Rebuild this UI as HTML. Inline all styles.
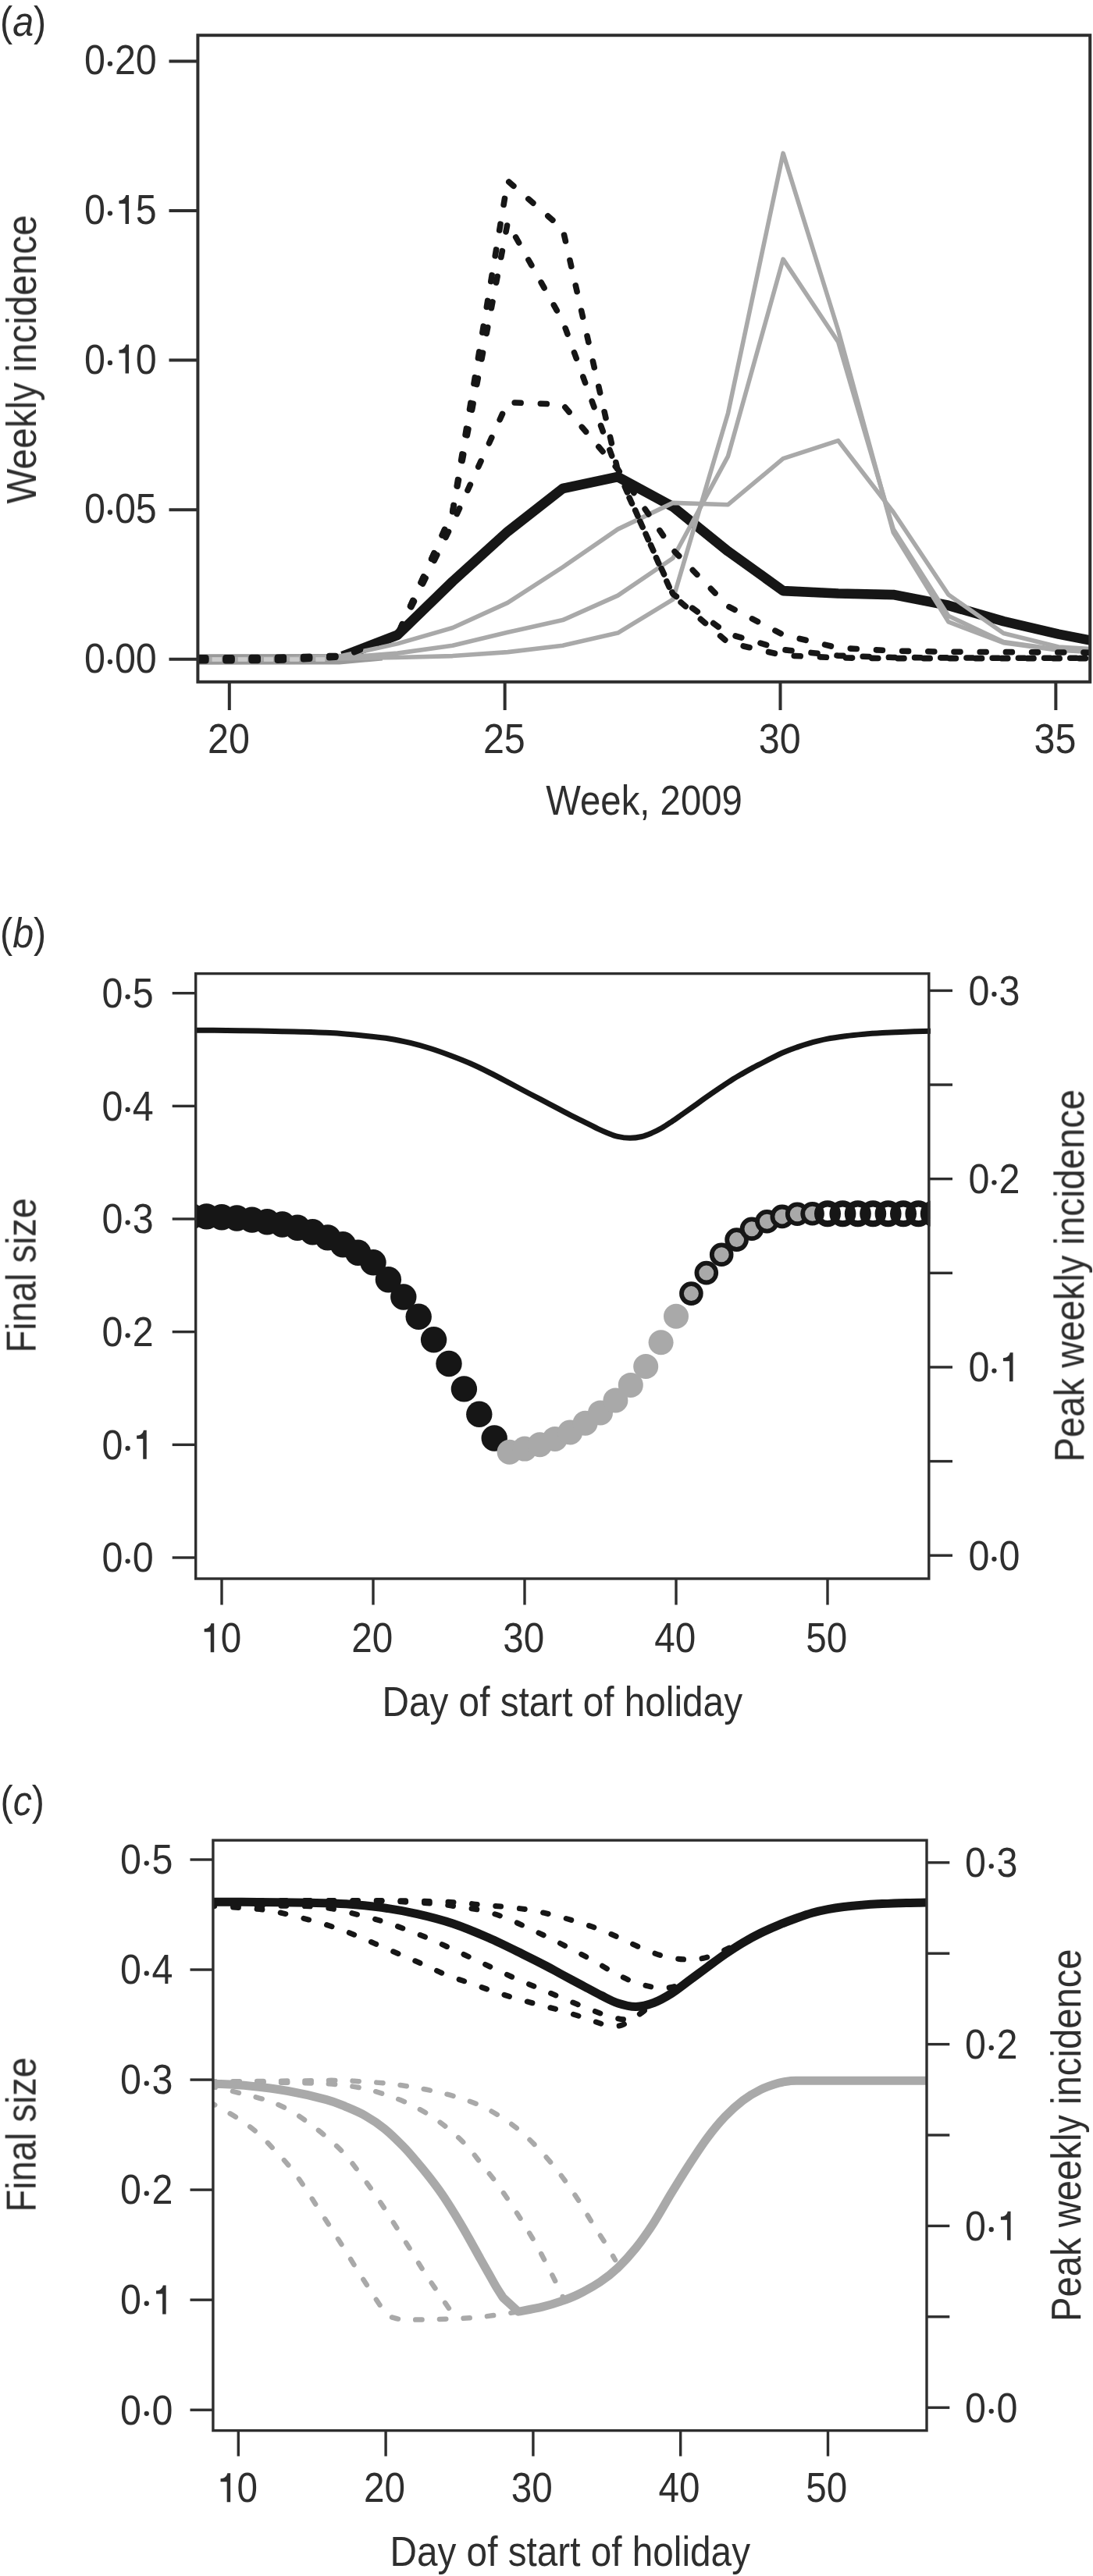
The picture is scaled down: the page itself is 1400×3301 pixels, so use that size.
<!DOCTYPE html>
<html lang="en"><head><meta charset="utf-8"><title>Figure</title>
<style>html,body{margin:0;padding:0;background:#fff}svg{display:block}text{font-family:"Liberation Sans",sans-serif;fill:#2e2e2e}</style></head><body>
<svg width="1400" height="3301" viewBox="0 0 1400 3301">
<rect width="1400" height="3301" fill="#fff"/>
<defs>
<clipPath id="ca"><rect x="253.4" y="45.2" width="1142.8" height="828.6"/></clipPath>
<clipPath id="cb"><rect x="249" y="1247.6" width="942.6" height="775.4"/></clipPath>
<clipPath id="cc"><rect x="272.9" y="2358.2" width="914.1" height="756.4"/></clipPath>
<filter id="soft" x="0" y="0" width="1400" height="3301" filterUnits="userSpaceOnUse"><feGaussianBlur stdDeviation="0.55"/></filter>
</defs>
<g filter="url(#soft)">
<!-- panel a -->
<text transform="translate(0,45.8) scale(0.905,1)" font-size="53.5" text-anchor="start">(<tspan font-style="italic">a</tspan>)</text>
<g clip-path="url(#ca)" stroke-linejoin="round">
<path d="M438.54,840.97 L509.11,813.76 L579.68,745.17 L650.25,681.17 L720.82,625.99 L791.39,611.05 L861.96,649.37 L932.53,706.46 L1003.1,757.05 L1073.67,760.5 L1144.24,762.03 L1214.81,775.82 L1285.38,796.13 L1355.95,812.61 L1426.52,826.41" fill="none" stroke="#161616" stroke-width="12.7"/>
<path d="M222,838.2 L434.94,838 L489.94,838 L489.94,846.5 L434.94,851.6 L222,851.8 Z" fill="#999999"/>
<path d="M226.83,844.8 L297.4,844.8 L367.97,844.42 L438.54,843.65 L509.11,842.5 L579.68,840.58 L650.25,835.6 L720.82,827.17 L791.39,811.08 L861.96,768.16 L932.53,529.43 L1003.1,196.43 L1073.67,423.28 L1144.24,682.32 L1214.81,796.9 L1285.38,823.72 L1355.95,833.3 L1426.52,837.14" fill="none" stroke="#a9a9a9" stroke-width="5.6"/>
<path d="M226.83,844.8 L297.4,844.8 L367.97,844.03 L438.54,842.5 L509.11,837.14 L579.68,827.17 L650.25,810.31 L720.82,794.6 L791.39,763.18 L861.96,715.28 L932.53,584.61 L1003.1,332.08 L1073.67,438.22 L1144.24,678.11 L1214.81,789.24 L1285.38,822.57 L1355.95,832.54 L1426.52,836.37" fill="none" stroke="#a9a9a9" stroke-width="5.6"/>
<path d="M226.83,844.8 L297.4,844.8 L367.97,843.65 L438.54,840.2 L509.11,824.87 L579.68,804.56 L650.25,772.38 L720.82,726.77 L791.39,678.11 L861.96,644.39 L932.53,646.69 L1003.1,587.67 L1073.67,564.68 L1144.24,656.27 L1214.81,762.03 L1285.38,811.46 L1355.95,829.09 L1426.52,833.3" fill="none" stroke="#a9a9a9" stroke-width="5.6"/>
<path d="M222.6,842.88 L226.83,842.88 L297.4,842.88 L367.97,842.12 L438.54,840.2 L509.11,813.76 L579.68,655.88 L650.25,231.68 L720.82,293.38 L791.39,603.38 L861.96,763.18 L932.53,823.34 L1003.1,839.82 L1073.67,842.88 L1144.24,843.65 L1214.81,843.65 L1285.38,843.65 L1355.95,843.65 L1426.52,843.65" fill="none" stroke="#161616" stroke-width="7.6" stroke-dasharray="8 25.2" stroke-linecap="round"/>
<path d="M222.6,844.8 L226.83,844.8 L297.4,844.8 L367.97,844.03 L438.54,840.97 L509.11,813.76 L579.68,655.88 L650.25,285.33 L720.82,411.4 L791.39,605.3 L861.96,761.26 L932.53,812.23 L1003.1,832.54 L1073.67,840.2 L1144.24,842.5 L1214.81,842.88 L1285.38,843.27 L1355.95,843.27 L1426.52,843.27" fill="none" stroke="#161616" stroke-width="7.6" stroke-dasharray="8 25.2" stroke-linecap="round"/>
<path d="M222.6,846.72 L226.83,846.72 L297.4,846.72 L367.97,845.95 L438.54,841.73 L509.11,813.76 L579.68,670.83 L650.25,515.63 L720.82,518.31 L791.39,601.47 L861.96,704.55 L932.53,776.97 L1003.1,813.38 L1073.67,830.24 L1144.24,834.07 L1214.81,835.22 L1285.38,835.6 L1355.95,835.99 L1426.52,836.37" fill="none" stroke="#161616" stroke-width="7.6" stroke-dasharray="8 25.2" stroke-linecap="round"/>
<rect x="271.6" y="842.2" width="12" height="5.6" fill="#cbcbcb"/>
<rect x="304.8" y="842.2" width="12" height="5.6" fill="#cbcbcb"/>
<rect x="338" y="842.2" width="12" height="5.6" fill="#cbcbcb"/>
<rect x="371.2" y="842.2" width="12" height="5.6" fill="#cbcbcb"/>
<rect x="404.4" y="842.2" width="12" height="5.6" fill="#cbcbcb"/>
</g>
<rect x="253.4" y="45.2" width="1142.8" height="828.6" fill="none" stroke="#2e2e2e" stroke-width="4"/>
<path d="M216.5,844.8H253.4" stroke="#2e2e2e" stroke-width="4"/>
<text transform="translate(107.91,861.8) scale(0.905,1)" font-size="53.5" text-anchor="start">0</text>
<circle cx="140.94" cy="848.1" r="3.15" fill="#2e2e2e"/>
<text transform="translate(146.94,861.8) scale(0.905,1)" font-size="53.5" text-anchor="start">00</text>
<path d="M216.5,653.2H253.4" stroke="#2e2e2e" stroke-width="4"/>
<text transform="translate(107.91,670.2) scale(0.905,1)" font-size="53.5" text-anchor="start">0</text>
<circle cx="140.94" cy="656.5" r="3.15" fill="#2e2e2e"/>
<text transform="translate(146.94,670.2) scale(0.905,1)" font-size="53.5" text-anchor="start">05</text>
<path d="M216.5,461.6H253.4" stroke="#2e2e2e" stroke-width="4"/>
<text transform="translate(107.91,478.6) scale(0.905,1)" font-size="53.5" text-anchor="start">0</text>
<circle cx="140.94" cy="464.9" r="3.15" fill="#2e2e2e"/>
<path transform="translate(152.24,478.6)" d="M12.8,0H8.3V-26H0.2V-30.1C4.6,-30.3 7.8,-32 9,-37H12.8Z" fill="#2e2e2e"/>
<text transform="translate(173.86,478.6) scale(0.905,1)" font-size="53.5" text-anchor="start">0</text>
<path d="M216.5,270H253.4" stroke="#2e2e2e" stroke-width="4"/>
<text transform="translate(107.91,287) scale(0.905,1)" font-size="53.5" text-anchor="start">0</text>
<circle cx="140.94" cy="273.3" r="3.15" fill="#2e2e2e"/>
<path transform="translate(152.24,287)" d="M12.8,0H8.3V-26H0.2V-30.1C4.6,-30.3 7.8,-32 9,-37H12.8Z" fill="#2e2e2e"/>
<text transform="translate(173.86,287) scale(0.905,1)" font-size="53.5" text-anchor="start">5</text>
<path d="M216.5,78.4H253.4" stroke="#2e2e2e" stroke-width="4"/>
<text transform="translate(107.91,95.4) scale(0.905,1)" font-size="53.5" text-anchor="start">0</text>
<circle cx="140.94" cy="81.7" r="3.15" fill="#2e2e2e"/>
<text transform="translate(146.94,95.4) scale(0.905,1)" font-size="53.5" text-anchor="start">20</text>
<path d="M293.8,873.8V910" stroke="#2e2e2e" stroke-width="4"/>
<text transform="translate(266.07,965.3) scale(0.905,1)" font-size="53.5" text-anchor="start">20</text>
<path d="M646.65,873.8V910" stroke="#2e2e2e" stroke-width="4"/>
<text transform="translate(618.92,965.3) scale(0.905,1)" font-size="53.5" text-anchor="start">25</text>
<path d="M999.5,873.8V910" stroke="#2e2e2e" stroke-width="4"/>
<text transform="translate(971.77,965.3) scale(0.905,1)" font-size="53.5" text-anchor="start">30</text>
<path d="M1352.35,873.8V910" stroke="#2e2e2e" stroke-width="4"/>
<text transform="translate(1324.62,965.3) scale(0.905,1)" font-size="53.5" text-anchor="start">35</text>
<text transform="translate(46,645.5) rotate(-90)" font-size="53.5" textLength="370" lengthAdjust="spacingAndGlyphs">Weekly incidence</text>
<text x="699.3" y="1043.6" font-size="53.5" textLength="251.5" lengthAdjust="spacingAndGlyphs">Week, 2009</text>
<!-- panel b -->
<text transform="translate(0,1213.8) scale(0.905,1)" font-size="53.5" text-anchor="start">(<tspan font-style="italic">b</tspan>)</text>
<g clip-path="url(#cb)">
<path d="M246,1320.2 C253.33,1320.25 275.75,1320.35 290,1320.5 C304.25,1320.65 316.97,1320.85 331.5,1321.1 C346.03,1321.35 361.95,1321.58 377.2,1322 C392.45,1322.42 407.75,1322.68 423,1323.6 C438.25,1324.52 455.87,1326.23 468.7,1327.5 C481.53,1328.77 490.52,1329.72 500,1331.2 C509.48,1332.68 517.07,1334.35 525.6,1336.4 C534.13,1338.45 542.67,1340.82 551.2,1343.5 C559.73,1346.18 568.25,1349.28 576.8,1352.5 C585.35,1355.72 593.95,1359.05 602.5,1362.8 C611.05,1366.55 619.57,1370.73 628.1,1375 C636.63,1379.27 645.17,1383.9 653.7,1388.4 C662.23,1392.9 670.77,1397.52 679.3,1402 C687.83,1406.48 696.37,1410.83 704.9,1415.3 C713.43,1419.77 722.52,1424.7 730.5,1428.8 C738.48,1432.9 746.95,1436.98 752.8,1439.9 C758.65,1442.82 761.33,1444.3 765.6,1446.3 C769.87,1448.3 774.13,1450.23 778.4,1451.9 C782.67,1453.57 786.5,1455.23 791.2,1456.3 C795.9,1457.37 801.47,1458.27 806.6,1458.3 C811.73,1458.33 817.3,1457.57 822,1456.5 C826.7,1455.43 830.53,1453.73 834.8,1451.9 C839.07,1450.07 843.33,1447.93 847.6,1445.5 C851.87,1443.07 856.13,1440.15 860.4,1437.3 C864.67,1434.45 868.93,1431.38 873.2,1428.4 C877.47,1425.42 881.73,1422.43 886,1419.4 C890.27,1416.37 894.53,1413.23 898.8,1410.2 C903.07,1407.17 907.33,1404.15 911.6,1401.2 C915.87,1398.25 920.13,1395.37 924.4,1392.5 C928.67,1389.63 932.93,1386.68 937.2,1384 C941.47,1381.32 945.73,1378.87 950,1376.4 C954.27,1373.93 958.53,1371.52 962.8,1369.2 C967.07,1366.88 971.33,1364.72 975.6,1362.5 C979.87,1360.28 984.12,1358.07 988.4,1355.9 C992.68,1353.73 996.03,1351.77 1001.3,1349.5 C1006.57,1347.23 1014.37,1344.33 1020,1342.3 C1025.63,1340.27 1028.62,1339.12 1035.1,1337.3 C1041.58,1335.48 1050.97,1333 1058.9,1331.4 C1066.83,1329.8 1074.77,1328.73 1082.7,1327.7 C1090.63,1326.67 1098.57,1325.9 1106.5,1325.2 C1114.43,1324.5 1122.37,1323.97 1130.3,1323.5 C1138.23,1323.03 1143.65,1322.77 1154.1,1322.4 C1164.55,1322.03 1186.52,1321.48 1193,1321.3" fill="none" stroke="#161616" stroke-width="7"/>
</g>
<g clip-path="url(#cb)">
<circle cx="225.8" cy="1558.6" r="16.7" fill="#161616"/>
<circle cx="245.2" cy="1558.7" r="16.7" fill="#161616"/>
<circle cx="264.6" cy="1558.9" r="16.7" fill="#161616"/>
<circle cx="284" cy="1559.8" r="16.7" fill="#161616"/>
<circle cx="303.4" cy="1561" r="16.7" fill="#161616"/>
<circle cx="322.8" cy="1563.1" r="16.7" fill="#161616"/>
<circle cx="342.2" cy="1565.7" r="16.7" fill="#161616"/>
<circle cx="361.6" cy="1569" r="16.7" fill="#161616"/>
<circle cx="381" cy="1573.2" r="16.7" fill="#161616"/>
<circle cx="400.4" cy="1578.7" r="16.7" fill="#161616"/>
<circle cx="419.8" cy="1585.9" r="16.7" fill="#161616"/>
<circle cx="439.2" cy="1594.7" r="16.7" fill="#161616"/>
<circle cx="458.6" cy="1605.2" r="16.7" fill="#161616"/>
<circle cx="478" cy="1617.8" r="16.7" fill="#161616"/>
<circle cx="497.4" cy="1639.7" r="16.7" fill="#161616"/>
<circle cx="516.8" cy="1662" r="16.7" fill="#161616"/>
<circle cx="536.2" cy="1687.3" r="16.7" fill="#161616"/>
<circle cx="555.6" cy="1716.8" r="16.7" fill="#161616"/>
<circle cx="575" cy="1747.5" r="16.7" fill="#161616"/>
<circle cx="594.4" cy="1779.9" r="16.7" fill="#161616"/>
<circle cx="613.8" cy="1812.3" r="16.7" fill="#161616"/>
<circle cx="633.2" cy="1843" r="16.7" fill="#161616"/>
<circle cx="652.6" cy="1860.8" r="16" fill="#a9a9a9"/>
<circle cx="672" cy="1856.6" r="16" fill="#a9a9a9"/>
<circle cx="691.4" cy="1851.3" r="16" fill="#a9a9a9"/>
<circle cx="710.8" cy="1843.9" r="16" fill="#a9a9a9"/>
<circle cx="730.2" cy="1835.4" r="16" fill="#a9a9a9"/>
<circle cx="749.6" cy="1823.7" r="16" fill="#a9a9a9"/>
<circle cx="769" cy="1810.4" r="16" fill="#a9a9a9"/>
<circle cx="788.4" cy="1794.5" r="16" fill="#a9a9a9"/>
<circle cx="807.8" cy="1774.9" r="16" fill="#a9a9a9"/>
<circle cx="827.2" cy="1751" r="16" fill="#a9a9a9"/>
<circle cx="846.6" cy="1720.2" r="16" fill="#a9a9a9"/>
<circle cx="866" cy="1686.8" r="16" fill="#a9a9a9"/>
<circle cx="885.4" cy="1657.6" r="12.4" fill="#a9a9a9" stroke="#161616" stroke-width="5.8"/>
<circle cx="904.8" cy="1631.1" r="12.4" fill="#a9a9a9" stroke="#161616" stroke-width="5.8"/>
<circle cx="924.2" cy="1607.7" r="12.4" fill="#a9a9a9" stroke="#161616" stroke-width="5.8"/>
<circle cx="943.6" cy="1588.6" r="12.4" fill="#a9a9a9" stroke="#161616" stroke-width="5.8"/>
<circle cx="963" cy="1574.8" r="12.4" fill="#a9a9a9" stroke="#161616" stroke-width="5.8"/>
<circle cx="982.4" cy="1565.3" r="12.4" fill="#a9a9a9" stroke="#161616" stroke-width="5.8"/>
<circle cx="1001.8" cy="1558.9" r="12.4" fill="#a9a9a9" stroke="#161616" stroke-width="5.8"/>
<circle cx="1021.2" cy="1555.7" r="12.4" fill="#a9a9a9" stroke="#161616" stroke-width="5.8"/>
<circle cx="1040.6" cy="1555.2" r="12.4" fill="#a9a9a9" stroke="#161616" stroke-width="5.8"/>
<circle cx="1060" cy="1555.2" r="12.9" fill="none" stroke="#161616" stroke-width="8.2"/>
<circle cx="1079.4" cy="1555.2" r="12.9" fill="none" stroke="#161616" stroke-width="8.2"/>
<circle cx="1098.8" cy="1555.2" r="12.9" fill="none" stroke="#161616" stroke-width="8.2"/>
<circle cx="1118.2" cy="1555.2" r="12.9" fill="none" stroke="#161616" stroke-width="8.2"/>
<circle cx="1137.6" cy="1555.2" r="12.9" fill="none" stroke="#161616" stroke-width="8.2"/>
<circle cx="1157" cy="1555.2" r="12.9" fill="none" stroke="#161616" stroke-width="8.2"/>
<circle cx="1176.4" cy="1555.2" r="12.9" fill="none" stroke="#161616" stroke-width="8.2"/>
<circle cx="1195.8" cy="1555.2" r="12.9" fill="none" stroke="#161616" stroke-width="8.2"/>
<circle cx="1215.2" cy="1555.2" r="12.9" fill="none" stroke="#161616" stroke-width="8.2"/>
</g>
<rect x="250.7" y="1247.6" width="939.1" height="775.4" fill="none" stroke="#2e2e2e" stroke-width="3.4"/>
<path d="M220.7,1996H250.7" stroke="#2e2e2e" stroke-width="3.4"/>
<text transform="translate(130.61,2014.3) scale(0.905,1)" font-size="53.5" text-anchor="start">0</text>
<circle cx="163.64" cy="2000.6" r="3.15" fill="#2e2e2e"/>
<text transform="translate(169.64,2014.3) scale(0.905,1)" font-size="53.5" text-anchor="start">0</text>
<path d="M220.7,1851.34H250.7" stroke="#2e2e2e" stroke-width="3.4"/>
<text transform="translate(130.61,1869.64) scale(0.905,1)" font-size="53.5" text-anchor="start">0</text>
<circle cx="163.64" cy="1855.94" r="3.15" fill="#2e2e2e"/>
<path transform="translate(174.94,1869.64)" d="M12.8,0H8.3V-26H0.2V-30.1C4.6,-30.3 7.8,-32 9,-37H12.8Z" fill="#2e2e2e"/>
<path d="M220.7,1706.68H250.7" stroke="#2e2e2e" stroke-width="3.4"/>
<text transform="translate(130.61,1724.98) scale(0.905,1)" font-size="53.5" text-anchor="start">0</text>
<circle cx="163.64" cy="1711.28" r="3.15" fill="#2e2e2e"/>
<text transform="translate(169.64,1724.98) scale(0.905,1)" font-size="53.5" text-anchor="start">2</text>
<path d="M220.7,1562.02H250.7" stroke="#2e2e2e" stroke-width="3.4"/>
<text transform="translate(130.61,1580.32) scale(0.905,1)" font-size="53.5" text-anchor="start">0</text>
<circle cx="163.64" cy="1566.62" r="3.15" fill="#2e2e2e"/>
<text transform="translate(169.64,1580.32) scale(0.905,1)" font-size="53.5" text-anchor="start">3</text>
<path d="M220.7,1417.36H250.7" stroke="#2e2e2e" stroke-width="3.4"/>
<text transform="translate(130.61,1435.66) scale(0.905,1)" font-size="53.5" text-anchor="start">0</text>
<circle cx="163.64" cy="1421.96" r="3.15" fill="#2e2e2e"/>
<text transform="translate(169.64,1435.66) scale(0.905,1)" font-size="53.5" text-anchor="start">4</text>
<path d="M220.7,1272.7H250.7" stroke="#2e2e2e" stroke-width="3.4"/>
<text transform="translate(130.61,1291) scale(0.905,1)" font-size="53.5" text-anchor="start">0</text>
<circle cx="163.64" cy="1277.3" r="3.15" fill="#2e2e2e"/>
<text transform="translate(169.64,1291) scale(0.905,1)" font-size="53.5" text-anchor="start">5</text>
<path d="M1189.8,1993.2H1220" stroke="#2e2e2e" stroke-width="3.4"/>
<text transform="translate(1240.41,2011.5) scale(0.905,1)" font-size="53.5" text-anchor="start">0</text>
<circle cx="1273.44" cy="1997.8" r="3.15" fill="#2e2e2e"/>
<text transform="translate(1279.44,2011.5) scale(0.905,1)" font-size="53.5" text-anchor="start">0</text>
<path d="M1189.8,1872.57H1220" stroke="#2e2e2e" stroke-width="3.4"/>
<path d="M1189.8,1751.94H1220" stroke="#2e2e2e" stroke-width="3.4"/>
<text transform="translate(1240.41,1770.24) scale(0.905,1)" font-size="53.5" text-anchor="start">0</text>
<circle cx="1273.44" cy="1756.54" r="3.15" fill="#2e2e2e"/>
<path transform="translate(1284.74,1770.24)" d="M12.8,0H8.3V-26H0.2V-30.1C4.6,-30.3 7.8,-32 9,-37H12.8Z" fill="#2e2e2e"/>
<path d="M1189.8,1631.31H1220" stroke="#2e2e2e" stroke-width="3.4"/>
<path d="M1189.8,1510.68H1220" stroke="#2e2e2e" stroke-width="3.4"/>
<text transform="translate(1240.41,1528.98) scale(0.905,1)" font-size="53.5" text-anchor="start">0</text>
<circle cx="1273.44" cy="1515.28" r="3.15" fill="#2e2e2e"/>
<text transform="translate(1279.44,1528.98) scale(0.905,1)" font-size="53.5" text-anchor="start">2</text>
<path d="M1189.8,1390.05H1220" stroke="#2e2e2e" stroke-width="3.4"/>
<path d="M1189.8,1269.42H1220" stroke="#2e2e2e" stroke-width="3.4"/>
<text transform="translate(1240.41,1287.72) scale(0.905,1)" font-size="53.5" text-anchor="start">0</text>
<circle cx="1273.44" cy="1274.02" r="3.15" fill="#2e2e2e"/>
<text transform="translate(1279.44,1287.72) scale(0.905,1)" font-size="53.5" text-anchor="start">3</text>
<path d="M284,2023V2056.5" stroke="#2e2e2e" stroke-width="3.4"/>
<path transform="translate(261.43,2117.3)" d="M12.8,0H8.3V-26H0.2V-30.1C4.6,-30.3 7.8,-32 9,-37H12.8Z" fill="#2e2e2e"/>
<text transform="translate(282.7,2117.3) scale(0.89,1)" font-size="53.5" text-anchor="start">0</text>
<path d="M478,2023V2056.5" stroke="#2e2e2e" stroke-width="3.4"/>
<text transform="translate(450.22,2117.3) scale(0.89,1)" font-size="53.5" text-anchor="start">20</text>
<path d="M672,2023V2056.5" stroke="#2e2e2e" stroke-width="3.4"/>
<text transform="translate(644.22,2117.3) scale(0.89,1)" font-size="53.5" text-anchor="start">30</text>
<path d="M866,2023V2056.5" stroke="#2e2e2e" stroke-width="3.4"/>
<text transform="translate(838.22,2117.3) scale(0.89,1)" font-size="53.5" text-anchor="start">40</text>
<path d="M1060,2023V2056.5" stroke="#2e2e2e" stroke-width="3.4"/>
<text transform="translate(1032.22,2117.3) scale(0.89,1)" font-size="53.5" text-anchor="start">50</text>
<text transform="translate(45.6,1733.5) rotate(-90)" font-size="53.5" textLength="198.5" lengthAdjust="spacingAndGlyphs">Final size</text>
<text transform="translate(1388.3,1873.5) rotate(-90)" font-size="53.5" textLength="477.5" lengthAdjust="spacingAndGlyphs">Peak weekly incidence</text>
<text x="489.5" y="2199" font-size="53.5" textLength="461.5" lengthAdjust="spacingAndGlyphs">Day of start of holiday</text>
<!-- panel c -->
<text transform="translate(0.5,2326.3) scale(0.905,1)" font-size="53.5" text-anchor="start">(<tspan font-style="italic">c</tspan>)</text>
<g clip-path="url(#cc)" stroke-linejoin="round">
<path d="M268,2693.5 C269.33,2694.22 270.08,2694.42 276,2697.8 C281.92,2701.18 294.73,2708.08 303.5,2713.8 C312.27,2719.52 320.6,2725.25 328.6,2732.1 C336.6,2738.95 344.25,2747.28 351.5,2754.9 C358.75,2762.52 365.62,2769.78 372.1,2777.8 C378.58,2785.82 384.68,2794.62 390.4,2803 C396.12,2811.38 400.92,2819.57 406.4,2828.1 C411.88,2836.63 417.73,2845.58 423.3,2854.2 C428.87,2862.82 434.38,2871.18 439.8,2879.8 C445.22,2888.42 450.47,2897.35 455.8,2905.9 C461.13,2914.45 466.77,2923.25 471.8,2931.1 C476.83,2938.95 482.47,2947.77 486,2953 C489.53,2958.23 491.83,2960.92 493,2962.5" fill="none" stroke="#a9a9a9" stroke-width="6.5" stroke-dasharray="8.3 22.3" stroke-linecap="round"/>
<path d="M268,2673 C274.28,2674.47 293.7,2678.82 305.7,2681.8 C317.7,2684.78 329.7,2687.48 340,2690.9 C350.3,2694.32 358.72,2697.72 367.5,2702.3 C376.28,2706.88 384.32,2712.45 392.7,2718.4 C401.08,2724.35 409.8,2731.15 417.8,2738 C425.8,2744.85 433.83,2752.1 440.7,2759.5 C447.57,2766.9 452.9,2774.38 459,2782.4 C465.1,2790.42 471.43,2799.22 477.3,2807.6 C483.17,2815.98 488.63,2824.17 494.2,2832.7 C499.77,2841.23 505.28,2850.18 510.7,2858.8 C516.12,2867.42 521.37,2875.78 526.7,2884.4 C532.03,2893.02 537.22,2901.97 542.7,2910.5 C548.18,2919.03 553.73,2926.98 559.6,2935.6 C565.47,2944.22 573.83,2956.3 577.9,2962.2 C581.97,2968.1 582.98,2969.53 584,2971" fill="none" stroke="#a9a9a9" stroke-width="6.5" stroke-dasharray="8.3 22.3" stroke-linecap="round"/>
<path d="M268,2667.8 C281.67,2667.92 328,2668.22 350,2668.5 C372,2668.78 386.42,2669.05 400,2669.5 C413.58,2669.95 420.9,2670.15 431.5,2671.2 C442.1,2672.25 453.3,2673.67 463.6,2675.8 C473.9,2677.93 483.4,2680.72 493.3,2684 C503.2,2687.28 513.47,2691.07 523,2695.5 C532.53,2699.93 541.73,2705.03 550.5,2710.6 C559.27,2716.17 567.6,2722.27 575.6,2728.9 C583.6,2735.53 591.63,2743.02 598.5,2750.4 C605.37,2757.78 610.7,2765.58 616.8,2773.2 C622.9,2780.82 629.15,2788.08 635.1,2796.1 C641.05,2804.12 646.78,2812.75 652.5,2821.3 C658.22,2829.85 663.92,2838.63 669.4,2847.4 C674.88,2856.17 680.28,2864.92 685.4,2873.9 C690.52,2882.88 695.13,2891.77 700.1,2901.3 C705.07,2910.83 711.38,2923.32 715.2,2931.1 C719.02,2938.88 721.7,2945.18 723,2948" fill="none" stroke="#a9a9a9" stroke-width="6.5" stroke-dasharray="8.3 22.3" stroke-linecap="round"/>
<path d="M268,2667.5 C286.67,2667.33 352.75,2666.77 380,2666.5 C407.25,2666.23 417.57,2665.75 431.5,2665.9 C445.43,2666.05 452.92,2666.75 463.6,2667.4 C474.28,2668.05 485.32,2668.7 495.6,2669.8 C505.88,2670.9 515.4,2672.38 525.3,2674 C535.2,2675.62 545.08,2677.3 555,2679.5 C564.92,2681.7 574.88,2684.15 584.8,2687.2 C594.72,2690.25 604.97,2693.52 614.5,2697.8 C624.03,2702.08 633.38,2707.42 642,2712.9 C650.62,2718.38 658.35,2724.07 666.2,2730.7 C674.05,2737.33 681.93,2745.23 689.1,2752.7 C696.27,2760.17 702.95,2767.88 709.2,2775.5 C715.45,2783.12 720.88,2790.38 726.6,2798.4 C732.32,2806.42 738.02,2814.98 743.5,2823.6 C748.98,2832.22 753.93,2841.18 759.5,2850.1 C765.07,2859.02 772.15,2869.45 776.9,2877.1 C781.65,2884.75 786.15,2892.85 788,2896" fill="none" stroke="#a9a9a9" stroke-width="6.5" stroke-dasharray="8.3 22.3" stroke-linecap="round"/>
<path d="M502,2969.5 C504.33,2969.98 509.07,2971.92 516,2972.4 C522.93,2972.88 533.67,2972.55 543.6,2972.4 C553.53,2972.25 565.3,2971.9 575.6,2971.5 C585.9,2971.1 595.48,2970.8 605.4,2970 C615.32,2969.2 625.18,2968 635.1,2966.7 C645.02,2965.4 659.93,2962.95 664.9,2962.2" fill="none" stroke="#a9a9a9" stroke-width="6.5" stroke-dasharray="8.3 22.3" stroke-linecap="round"/>
<path d="M268,2670 C269.15,2670.03 266.33,2669.7 274.9,2670.2 C283.47,2670.7 303.75,2671.45 319.4,2673 C335.05,2674.55 352.33,2676.57 368.8,2679.5 C385.27,2682.43 405.85,2687.25 418.2,2690.6 C430.55,2693.95 434.67,2696.2 442.9,2699.6 C451.13,2703 459.37,2706.32 467.6,2711 C475.83,2715.68 484.15,2721.12 492.3,2727.7 C500.45,2734.28 509.73,2743.62 516.5,2750.5 C523.27,2757.38 527.42,2762.55 532.9,2769 C538.38,2775.45 543.9,2782.13 549.4,2789.2 C554.9,2796.27 560.42,2803.45 565.9,2811.4 C571.38,2819.35 576.82,2827.98 582.3,2836.9 C587.78,2845.82 593.3,2855.28 598.8,2864.9 C604.3,2874.52 610.77,2886.5 615.3,2894.6 C619.83,2902.7 622.72,2907.68 626,2913.5 C629.28,2919.32 631.93,2924.35 635,2929.5 C638.07,2934.65 642.83,2941.92 644.4,2944.4 L663.9,2962.2 C669.02,2961.2 685.68,2958.33 694.6,2956.2 C703.52,2954.07 709.78,2952.07 717.4,2949.4 C725.02,2946.73 731.77,2944.4 740.3,2940.2 C748.83,2936 760.07,2929.92 768.6,2924.2 C777.13,2918.48 783.87,2913.13 791.5,2905.9 C799.13,2898.67 806.78,2890.33 814.4,2880.8 C822.02,2871.27 829.58,2860.47 837.2,2848.7 C844.82,2836.93 852.47,2822.73 860.1,2810.2 C867.73,2797.67 875.37,2785.25 883,2773.5 C890.63,2761.75 898.28,2749.9 905.9,2739.7 C913.52,2729.5 921.08,2720.32 928.7,2712.3 C936.32,2704.28 943.97,2697.38 951.6,2691.6 C959.23,2685.82 966.88,2681.33 974.5,2677.6 C982.12,2673.87 991.05,2671.03 997.3,2669.2 C1003.55,2667.37 1009.55,2667.03 1012,2666.6 L1020,2666.2 L1192,2666.2" fill="none" stroke="#a9a9a9" stroke-width="11"/>
<path d="M268,2442.5 C268.95,2442.52 267.42,2442.27 273.7,2442.6 C279.98,2442.93 294.27,2443.63 305.7,2444.5 C317.13,2445.37 331.25,2446.22 342.3,2447.8 C353.35,2449.38 362.08,2451.67 372,2454 C381.92,2456.33 391.88,2458.98 401.8,2461.8 C411.72,2464.62 421.97,2467.63 431.5,2470.9 C441.03,2474.17 449.68,2477.58 459,2481.4 C468.32,2485.22 477.87,2489.68 487.4,2493.8 C496.93,2497.92 506.83,2502.07 516.2,2506.1 C525.57,2510.13 534.47,2513.95 543.6,2518 C552.73,2522.05 561.47,2526.58 571,2530.4 C580.53,2534.22 591.03,2537.47 600.8,2540.9 C610.57,2544.33 620.07,2547.8 629.6,2551 C639.13,2554.2 648.32,2557.22 658,2560.1 C667.68,2562.98 677.8,2565.63 687.7,2568.3 C697.6,2570.97 707.48,2573.27 717.4,2576.1 C727.32,2578.93 737.52,2582.15 747.2,2585.3 C756.88,2588.45 768.37,2593.13 775.5,2595 C782.63,2596.87 785.05,2597.2 790,2596.5 C794.95,2595.8 798.08,2595.08 805.2,2590.8 C812.32,2586.52 828.12,2574.13 832.7,2570.8" fill="none" stroke="#161616" stroke-width="7" stroke-dasharray="6.8 23.8" stroke-linecap="round"/>
<path d="M268,2442 C280,2442.03 317.7,2442.03 340,2442.2 C362.3,2442.37 386.55,2442.18 401.8,2443 C417.05,2443.82 421.2,2445.12 431.5,2447.1 C441.8,2449.08 453.3,2452.23 463.6,2454.9 C473.9,2457.57 483.62,2460.05 493.3,2463.1 C502.98,2466.15 512.17,2469.62 521.7,2473.2 C531.23,2476.78 541.13,2480.63 550.5,2484.6 C559.87,2488.57 568.75,2492.8 577.9,2497 C587.05,2501.2 596.25,2505.53 605.4,2509.8 C614.55,2514.07 623.43,2518.25 632.8,2522.6 C642.17,2526.95 652.07,2531.7 661.6,2535.9 C671.13,2540.1 680.7,2543.92 690,2547.8 C699.3,2551.68 707.87,2555.25 717.4,2559.2 C726.93,2563.15 737.13,2567.53 747.2,2571.5 C757.27,2575.47 769,2580.25 777.8,2583 C786.6,2585.75 794.3,2587.5 800,2588 C805.7,2588.5 806.55,2588.87 812,2586 C817.45,2583.13 829.25,2573.33 832.7,2570.8" fill="none" stroke="#161616" stroke-width="7" stroke-dasharray="6.8 23.8" stroke-linecap="round"/>
<path d="M268,2435.8 C290,2435.8 361.33,2435.68 400,2435.8 C438.67,2435.92 473.78,2435.88 500,2436.5 C526.22,2437.12 542.78,2438.33 557.3,2439.5 C571.82,2440.67 577.18,2442.08 587.1,2443.5 C597.02,2444.92 606.88,2445.72 616.8,2448 C626.72,2450.28 637.07,2453.62 646.6,2457.2 C656.13,2460.78 664.87,2465.32 674,2469.5 C683.13,2473.68 692.25,2477.87 701.4,2482.3 C710.55,2486.73 719.6,2491.32 728.9,2496.1 C738.2,2500.88 747.92,2505.9 757.2,2511 C766.48,2516.1 775.45,2521.87 784.6,2526.7 C793.75,2531.53 802.57,2536.57 812.1,2540 C821.63,2543.43 833.82,2546.22 841.8,2547.3 C849.78,2548.38 854.3,2547.55 860,2546.5 C865.7,2545.45 873.33,2541.92 876,2541" fill="none" stroke="#161616" stroke-width="7" stroke-dasharray="6.8 23.8" stroke-linecap="round"/>
<path d="M268,2435.5 C290,2435.5 358,2435.45 400,2435.5 C442,2435.55 488.82,2435.38 520,2435.8 C551.18,2436.22 570.97,2437.1 587.1,2438 C603.23,2438.9 606.88,2440.28 616.8,2441.2 C626.72,2442.12 636.3,2442.43 646.6,2443.5 C656.9,2444.57 668.32,2445.85 678.6,2447.6 C688.88,2449.35 698.4,2451.55 708.3,2454 C718.2,2456.45 728.33,2459.33 738,2462.3 C747.67,2465.27 757,2468.3 766.3,2471.8 C775.6,2475.3 784.65,2479.25 793.8,2483.3 C802.95,2487.35 811.67,2492.15 821.2,2496.1 C830.73,2500.05 841.08,2504.48 851,2507 C860.92,2509.52 872.53,2510.78 880.7,2511.2 C888.87,2511.62 893.78,2510.78 900,2509.5 C906.22,2508.22 911.3,2506.25 918,2503.5 C924.7,2500.75 936.5,2494.75 940.2,2493" fill="none" stroke="#161616" stroke-width="7" stroke-dasharray="6.8 23.8" stroke-linecap="round"/>
<path d="M268,2437.2 C278.33,2437.25 308.47,2437.32 330,2437.5 C351.53,2437.68 378.37,2437.92 397.2,2438.3 C416.03,2438.68 427.75,2438.78 443,2439.8 C458.25,2440.82 473.45,2442.27 488.7,2444.4 C503.95,2446.53 519.25,2449.17 534.5,2452.6 C549.75,2456.03 564.95,2459.88 580.2,2465 C595.45,2470.12 610.75,2476.6 626,2483.3 C641.25,2490 659.37,2499.17 671.7,2505.2 C684.03,2511.23 692.38,2515.53 700,2519.5 C707.62,2523.47 709.78,2524.9 717.4,2529 C725.02,2533.1 736.93,2539.43 745.7,2544.1 C754.47,2548.77 762.37,2553.18 770,2557 C777.63,2560.82 784.1,2564.58 791.5,2567 C798.9,2569.42 806.78,2571.58 814.4,2571.5 C822.02,2571.42 829.58,2569.33 837.2,2566.5 C844.82,2563.67 852.47,2559.28 860.1,2554.5 C867.73,2549.72 875.37,2543.42 883,2537.8 C890.63,2532.18 898.28,2526.4 905.9,2520.8 C913.52,2515.2 921.08,2509.43 928.7,2504.2 C936.32,2498.97 943.97,2493.93 951.6,2489.4 C959.23,2484.87 966.88,2480.77 974.5,2477 C982.12,2473.23 989.68,2469.97 997.3,2466.8 C1004.92,2463.63 1013.02,2460.6 1020.2,2458 C1027.38,2455.4 1033.68,2453.1 1040.4,2451.2 C1047.12,2449.3 1053.8,2447.88 1060.5,2446.6 C1067.2,2445.32 1073.88,2444.35 1080.6,2443.5 C1087.32,2442.65 1092.57,2442.15 1100.8,2441.5 C1109.03,2440.85 1119.97,2440.12 1130,2439.6 C1140.03,2439.08 1150.67,2438.7 1161,2438.4 C1171.33,2438.1 1186.83,2437.9 1192,2437.8" fill="none" stroke="#161616" stroke-width="11"/>
</g>
<rect x="272.9" y="2358.2" width="914.1" height="756.4" fill="none" stroke="#2e2e2e" stroke-width="3.4"/>
<path d="M243.5,3088.2H272.9" stroke="#2e2e2e" stroke-width="3.4"/>
<text transform="translate(153.91,3106.5) scale(0.905,1)" font-size="53.5" text-anchor="start">0</text>
<circle cx="187.74" cy="3092.8" r="3.15" fill="#2e2e2e"/>
<text transform="translate(194.54,3106.5) scale(0.905,1)" font-size="53.5" text-anchor="start">0</text>
<path d="M243.5,2947.16H272.9" stroke="#2e2e2e" stroke-width="3.4"/>
<text transform="translate(153.91,2965.46) scale(0.905,1)" font-size="53.5" text-anchor="start">0</text>
<circle cx="187.74" cy="2951.76" r="3.15" fill="#2e2e2e"/>
<path transform="translate(199.84,2965.46)" d="M12.8,0H8.3V-26H0.2V-30.1C4.6,-30.3 7.8,-32 9,-37H12.8Z" fill="#2e2e2e"/>
<path d="M243.5,2806.12H272.9" stroke="#2e2e2e" stroke-width="3.4"/>
<text transform="translate(153.91,2824.42) scale(0.905,1)" font-size="53.5" text-anchor="start">0</text>
<circle cx="187.74" cy="2810.72" r="3.15" fill="#2e2e2e"/>
<text transform="translate(194.54,2824.42) scale(0.905,1)" font-size="53.5" text-anchor="start">2</text>
<path d="M243.5,2665.08H272.9" stroke="#2e2e2e" stroke-width="3.4"/>
<text transform="translate(153.91,2683.38) scale(0.905,1)" font-size="53.5" text-anchor="start">0</text>
<circle cx="187.74" cy="2669.68" r="3.15" fill="#2e2e2e"/>
<text transform="translate(194.54,2683.38) scale(0.905,1)" font-size="53.5" text-anchor="start">3</text>
<path d="M243.5,2524.04H272.9" stroke="#2e2e2e" stroke-width="3.4"/>
<text transform="translate(153.91,2542.34) scale(0.905,1)" font-size="53.5" text-anchor="start">0</text>
<circle cx="187.74" cy="2528.64" r="3.15" fill="#2e2e2e"/>
<text transform="translate(194.54,2542.34) scale(0.905,1)" font-size="53.5" text-anchor="start">4</text>
<path d="M243.5,2383H272.9" stroke="#2e2e2e" stroke-width="3.4"/>
<text transform="translate(153.91,2401.3) scale(0.905,1)" font-size="53.5" text-anchor="start">0</text>
<circle cx="187.74" cy="2387.6" r="3.15" fill="#2e2e2e"/>
<text transform="translate(194.54,2401.3) scale(0.905,1)" font-size="53.5" text-anchor="start">5</text>
<path d="M1187,3085.2H1216.3" stroke="#2e2e2e" stroke-width="3.4"/>
<text transform="translate(1236.01,3103.5) scale(0.905,1)" font-size="53.5" text-anchor="start">0</text>
<circle cx="1269.74" cy="3089.8" r="3.15" fill="#2e2e2e"/>
<text transform="translate(1276.44,3103.5) scale(0.905,1)" font-size="53.5" text-anchor="start">0</text>
<path d="M1187,2968.8H1216.3" stroke="#2e2e2e" stroke-width="3.4"/>
<path d="M1187,2852.4H1216.3" stroke="#2e2e2e" stroke-width="3.4"/>
<text transform="translate(1236.01,2870.7) scale(0.905,1)" font-size="53.5" text-anchor="start">0</text>
<circle cx="1269.74" cy="2857" r="3.15" fill="#2e2e2e"/>
<path transform="translate(1281.74,2870.7)" d="M12.8,0H8.3V-26H0.2V-30.1C4.6,-30.3 7.8,-32 9,-37H12.8Z" fill="#2e2e2e"/>
<path d="M1187,2736H1216.3" stroke="#2e2e2e" stroke-width="3.4"/>
<path d="M1187,2619.6H1216.3" stroke="#2e2e2e" stroke-width="3.4"/>
<text transform="translate(1236.01,2637.9) scale(0.905,1)" font-size="53.5" text-anchor="start">0</text>
<circle cx="1269.74" cy="2624.2" r="3.15" fill="#2e2e2e"/>
<text transform="translate(1276.44,2637.9) scale(0.905,1)" font-size="53.5" text-anchor="start">2</text>
<path d="M1187,2503.2H1216.3" stroke="#2e2e2e" stroke-width="3.4"/>
<path d="M1187,2386.8H1216.3" stroke="#2e2e2e" stroke-width="3.4"/>
<text transform="translate(1236.01,2405.1) scale(0.905,1)" font-size="53.5" text-anchor="start">0</text>
<circle cx="1269.74" cy="2391.4" r="3.15" fill="#2e2e2e"/>
<text transform="translate(1276.44,2405.1) scale(0.905,1)" font-size="53.5" text-anchor="start">3</text>
<path d="M305.3,3114.6V3147.5" stroke="#2e2e2e" stroke-width="3.4"/>
<path transform="translate(282.33,3206.3)" d="M12.8,0H8.3V-26H0.2V-30.1C4.6,-30.3 7.8,-32 9,-37H12.8Z" fill="#2e2e2e"/>
<text transform="translate(303.6,3206.3) scale(0.89,1)" font-size="53.5" text-anchor="start">0</text>
<path d="M494.1,3114.6V3147.5" stroke="#2e2e2e" stroke-width="3.4"/>
<text transform="translate(465.92,3206.3) scale(0.89,1)" font-size="53.5" text-anchor="start">20</text>
<path d="M682.9,3114.6V3147.5" stroke="#2e2e2e" stroke-width="3.4"/>
<text transform="translate(654.72,3206.3) scale(0.89,1)" font-size="53.5" text-anchor="start">30</text>
<path d="M871.7,3114.6V3147.5" stroke="#2e2e2e" stroke-width="3.4"/>
<text transform="translate(843.52,3206.3) scale(0.89,1)" font-size="53.5" text-anchor="start">40</text>
<path d="M1060.5,3114.6V3147.5" stroke="#2e2e2e" stroke-width="3.4"/>
<text transform="translate(1032.32,3206.3) scale(0.89,1)" font-size="53.5" text-anchor="start">50</text>
<text transform="translate(45.6,2834.6) rotate(-90)" font-size="53.5" textLength="198.5" lengthAdjust="spacingAndGlyphs">Final size</text>
<text transform="translate(1384.2,2975) rotate(-90)" font-size="53.5" textLength="477.5" lengthAdjust="spacingAndGlyphs">Peak weekly incidence</text>
<text x="499.5" y="3287.8" font-size="53.5" textLength="461.5" lengthAdjust="spacingAndGlyphs">Day of start of holiday</text>
</g>
</svg></body></html>
